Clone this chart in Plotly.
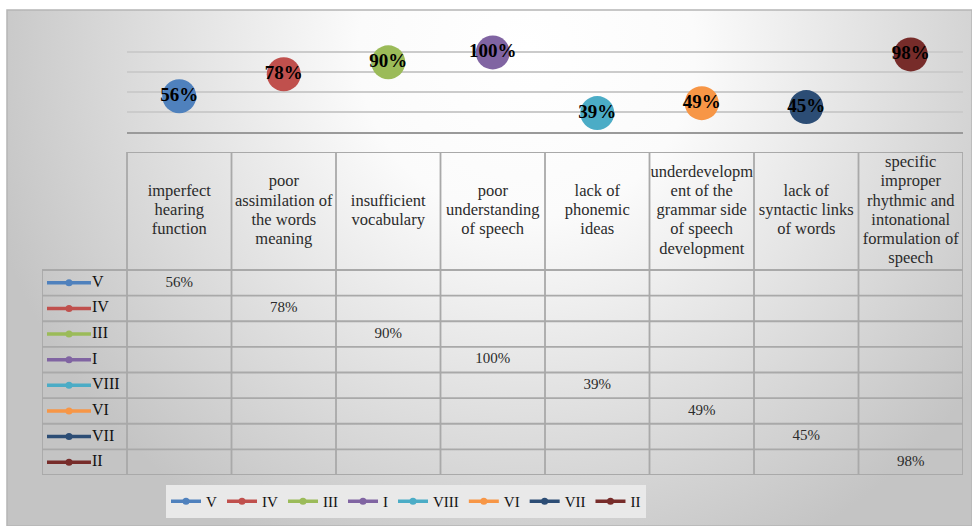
import base64
import plotly.graph_objects as go

# ---- data -------------------------------------------------------------
categories = [
    "imperfect<br>hearing<br>function",
    "poor<br>assimilation of<br>the words<br>meaning",
    "insufficient<br>vocabulary",
    "poor<br>understanding<br>of speech",
    "lack of<br>phonemic<br>ideas",
    "underdevelopm<br>ent of the<br>grammar side<br>of speech<br>development",
    "lack of<br>syntactic links<br>of words",
    "specific<br>improper<br>rhythmic and<br>intonational<br>formulation of<br>speech",
]
series_names = ["V", "IV", "III", "I", "VIII", "VI", "VII", "II"]
series_values = [56, 78, 90, 100, 39, 49, 45, 98]
series_colors = ["#4F81BD", "#C0504D", "#9BBB59", "#8064A2",
                 "#4BACC6", "#F79646", "#2C4D75", "#772C2A"]
y_ticks = [20, 40, 60, 80, 100, 120]

# ---- page geometry (pixels) -------------------------------------------
W, H = 972, 526
def fx(px):
    return px / W
def fy(px):
    return 1 - px / H

PLOT_L, PLOT_R, PLOT_T, PLOT_B = 127, 963, 32.5, 132
TAB_L, TAB_T, TAB_HDR_B, TAB_B = 42, 152, 270, 475
HDR_LINE_PX = 19.2                         # header text line pitch

n_cols = len(categories)
n_rows = len(series_names)
col_w = (PLOT_R - PLOT_L) / n_cols
row_h = (TAB_B - TAB_HDR_B) / n_rows
lab_w = (PLOT_L - TAB_L) / col_w          # label column width in column units
hdr_h = (TAB_HDR_B - TAB_T) / row_h       # header height in row units
x2_min = -0.5 - lab_w

SERIF = "Liberation Serif, Times New Roman, serif"
TXT = "#2b2b2b"
GRID = "#a9a9a9"

fig = go.Figure()

# ---- chart points ------------------------------------------------------
for i, (name, val, col) in enumerate(zip(series_names, series_values, series_colors)):
    fig.add_trace(go.Scatter(
        x=[categories[i]], y=[val], name=name, mode="markers+text",
        marker=dict(size=34, color=col, line=dict(width=0)),
        text=[f"{val}%"], textposition="middle center",
        textfont=dict(family=SERIF, size=19, color="#000000", weight="bold"),
        cliponaxis=False, showlegend=False, hoverinfo="y+name",
        xaxis="x", yaxis="y",
    ))

# ---- legend entries ----------------------------------------------------
for name, col in zip(series_names, series_colors):
    fig.add_trace(go.Scatter(
        x=[None], y=[None], name=name, mode="lines+markers",
        line=dict(color=col, width=3.5), marker=dict(size=7, color=col),
        showlegend=True, xaxis="x", yaxis="y",
    ))

# ---- data table: header, values, row keys -----------------------------
hdr_mid = (-0.5 - hdr_h + -0.5) / 2
line_step = HDR_LINE_PX / row_h
hx, hy, ht = [], [], []
for j, label in enumerate(categories):
    lines = label.split("<br>")
    for m, part in enumerate(lines):
        hx.append(j)
        hy.append(hdr_mid + (m - (len(lines) - 1) / 2) * line_step)
        ht.append(part)
fig.add_trace(go.Scatter(
    x=hx, y=hy, mode="text", text=ht, textposition="middle center",
    textfont=dict(family=SERIF, size=16.5, color=TXT),
    showlegend=False, hoverinfo="skip", xaxis="x2", yaxis="y2",
))
fig.add_trace(go.Scatter(
    x=list(range(n_cols)), y=list(range(n_rows)), mode="text",
    text=[f"{v}%" for v in series_values], textposition="middle center",
    textfont=dict(family=SERIF, size=15, color=TXT),
    showlegend=False, hoverinfo="skip", xaxis="x2", yaxis="y2",
))

key_a = x2_min + 5 / col_w
key_b = x2_min + 49 / col_w
key_t = x2_min + 50 / col_w
for k, col in enumerate(series_colors):
    fig.add_trace(go.Scatter(
        x=[key_a, key_b], y=[k, k], mode="lines",
        line=dict(color=col, width=3.5),
        showlegend=False, hoverinfo="skip", xaxis="x2", yaxis="y2",
    ))
fig.add_trace(go.Scatter(
    x=[(key_a + key_b) / 2] * n_rows, y=list(range(n_rows)), mode="markers",
    marker=dict(size=7, color=series_colors),
    showlegend=False, hoverinfo="skip", xaxis="x2", yaxis="y2",
))
fig.add_trace(go.Scatter(
    x=[key_t] * n_rows, y=list(range(n_rows)), mode="text",
    text=series_names, textposition="middle right",
    textfont=dict(family=SERIF, size=16, color="#111111"),
    showlegend=False, hoverinfo="skip", xaxis="x2", yaxis="y2",
))

# table grid lines
shapes = []
line_style = dict(color=GRID, width=1.8)
shapes.append(dict(type="line", xref="x2", yref="y2",
                   x0=-0.5, x1=n_cols - 0.5, y0=-0.5 - hdr_h, y1=-0.5 - hdr_h,
                   line=line_style))
for k in range(n_rows + 1):
    shapes.append(dict(type="line", xref="x2", yref="y2",
                       x0=x2_min, x1=n_cols - 0.5, y0=k - 0.5, y1=k - 0.5,
                       line=line_style))
shapes.append(dict(type="line", xref="x2", yref="y2",
                   x0=x2_min, x1=x2_min, y0=-0.5, y1=n_rows - 0.5, line=line_style))
for j in range(n_cols + 1):
    shapes.append(dict(type="line", xref="x2", yref="y2",
                       x0=j - 0.5, x1=j - 0.5, y0=-0.5 - hdr_h, y1=n_rows - 0.5,
                       line=line_style))

# chart area outline
shapes.append(dict(type="rect", xref="paper", yref="paper",
                   x0=fx(7), x1=fx(972), y0=fy(526), y1=fy(10),
                   line=dict(color="#b5b5b5", width=1.5), layer="below"))

# ---- radial gradient background ---------------------------------------
bg_w, bg_h = 965, 516
svg = (
    f"<svg xmlns='http://www.w3.org/2000/svg' width='{bg_w}' height='{bg_h}'>"
    "<defs><radialGradient id='g' gradientUnits='userSpaceOnUse' "
    "cx='520' cy='40' r='560'>"
    "<stop offset='0' stop-color='#ffffff'/>"
    "<stop offset='0.3' stop-color='#fbfbfb'/>"
    "<stop offset='1' stop-color='#c4c4c4'/>"
    "</radialGradient></defs>"
    f"<rect width='{bg_w}' height='{bg_h}' fill='url(#g)'/></svg>"
)
bg_src = "data:image/svg+xml;base64," + base64.b64encode(svg.encode()).decode()

fig.update_layout(
    width=W, height=H, autosize=False,
    margin=dict(l=0, r=0, t=0, b=0),
    paper_bgcolor="#ffffff", plot_bgcolor="rgba(0,0,0,0)",
    font=dict(family=SERIF, color=TXT),
    images=[dict(source=bg_src, xref="paper", yref="paper",
                 x=fx(7), y=fy(10), sizex=bg_w / W, sizey=bg_h / H,
                 xanchor="left", yanchor="top", sizing="stretch", layer="below")],
    shapes=shapes,
    xaxis=dict(domain=[fx(PLOT_L), fx(PLOT_R)], type="category",
               categoryorder="array", categoryarray=categories,
               range=[-0.5, n_cols - 0.5], showticklabels=False,
               showgrid=False, zeroline=False, showline=True,
               linecolor="#9a9a9a", linewidth=2, ticks=""),
    yaxis=dict(domain=[fy(PLOT_B), fy(PLOT_T)], range=[y_ticks[0], y_ticks[-1]],
               tickvals=y_ticks, showticklabels=False, showgrid=True,
               gridcolor="#cbcbcb", gridwidth=1.6, zeroline=False, ticks=""),
    xaxis2=dict(domain=[fx(TAB_L), fx(PLOT_R)], range=[x2_min, n_cols - 0.5],
                visible=False, anchor="y2"),
    yaxis2=dict(domain=[fy(TAB_B), fy(TAB_T)],
                range=[n_rows - 0.5, -0.5 - hdr_h], visible=False, anchor="x2"),
    legend=dict(orientation="h", x=fx(166), y=fy(485), xanchor="left",
                yanchor="top", bgcolor="#e9e9e9",
                font=dict(family=SERIF, size=15, color="#111111"),
                itemclick=False, itemdoubleclick=False),
    showlegend=True,
)

fig.write_html("out.html")
